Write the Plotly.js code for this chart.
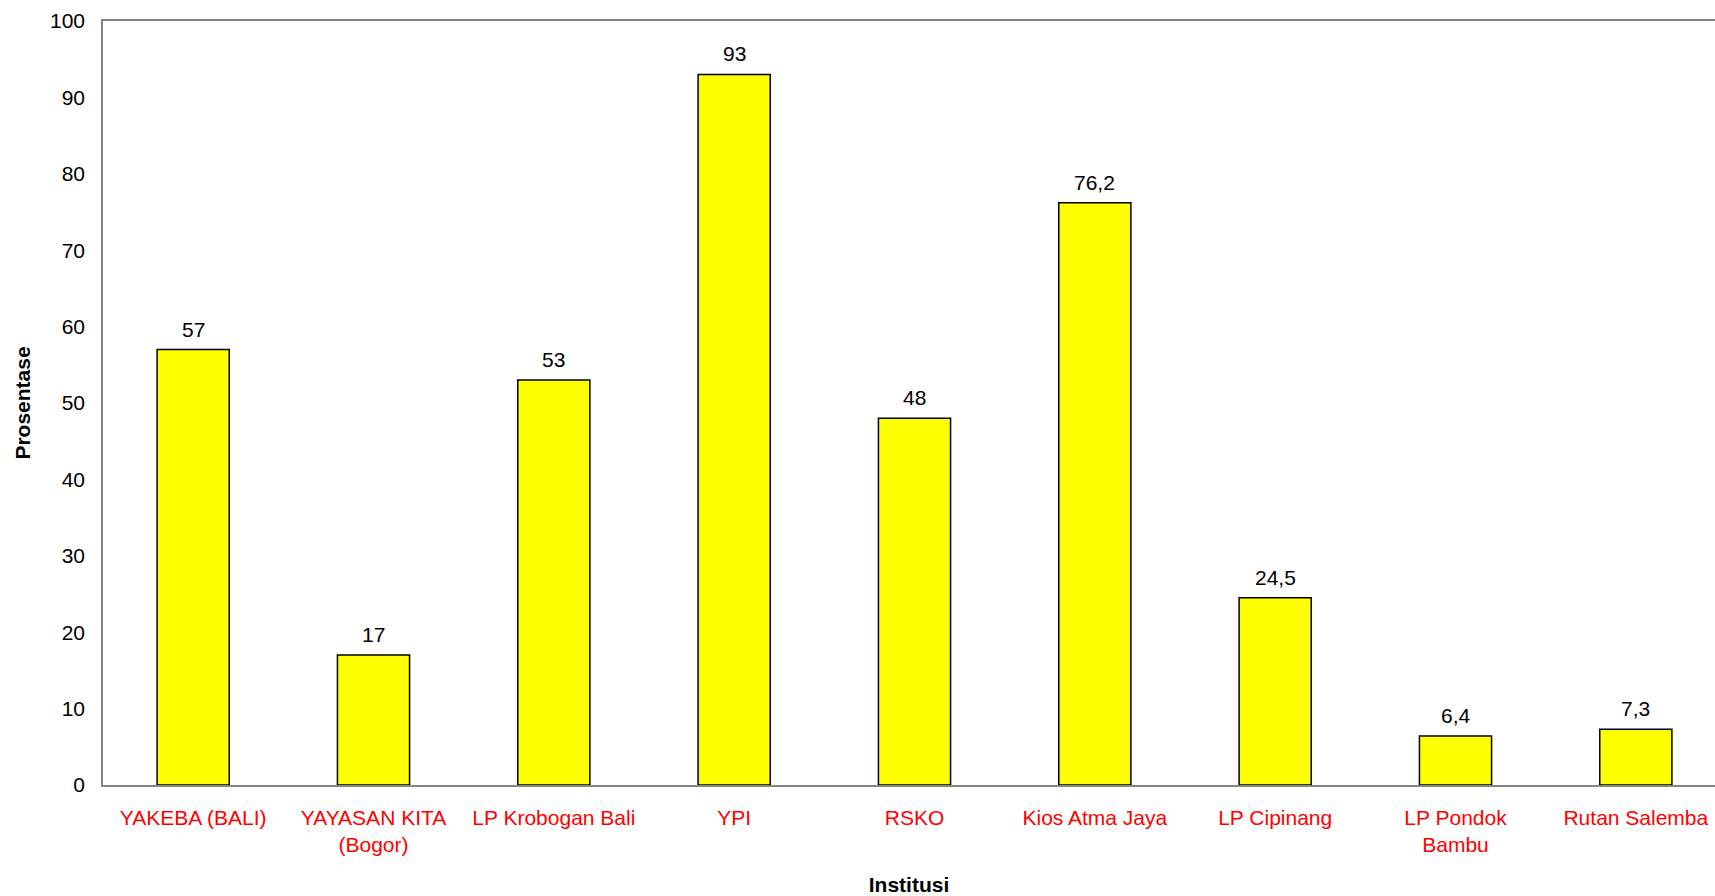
<!DOCTYPE html>
<html>
<head>
<meta charset="utf-8">
<script src="https://cdn.plot.ly/plotly-3.0.1.min.js"></script>
<style>html,body{margin:0;padding:0;background:#fff;}#chart{width:1715px;height:896px;}</style>
</head>
<body>
<div id="chart"></div>
<script>
const categories = ['YAKEBA (BALI)', 'YAYASAN KITA<br>(Bogor)', 'LP Krobogan Bali', 'YPI', 'RSKO', 'Kios Atma Jaya', 'LP Cipinang', 'LP Pondok<br>Bambu', 'Rutan Salemba'];
const values = [57, 17, 53, 93, 48, 76.2, 24.5, 6.4, 7.3];
const labels = values.map(v => String(v).replace('.', ','));
const yTicks = [0, 10, 20, 30, 40, 50, 60, 70, 80, 90, 100];

const FONT = 'Liberation Sans, Arial, sans-serif';

const trace = {
  type: 'bar',
  x: categories,
  y: values,
  marker: {color: '#FFFF00', line: {color: '#000000', width: 1.5}},
  width: 0.4,
  hoverinfo: 'x+y'
};

const annotations = categories.map((c, i) => ({
  x: c, y: values[i], xref: 'x', yref: 'y',
  text: labels[i], showarrow: false,
  yanchor: 'bottom', yshift: 7,
  font: {family: FONT, size: 21, color: '#000'}
}));

const layout = {
  width: 1715, height: 896,
  margin: {l: 103, r: 0, t: 21, b: 111, pad: 0},
  paper_bgcolor: '#fff', plot_bgcolor: '#fff',
  showlegend: false,
  bargap: 0.6,
  xaxis: {
    type: 'category',
    range: [-0.5, 8.439],
    showline: true, linecolor: '#868686', linewidth: 1.5, mirror: true,
    showgrid: false, ticks: '', ticklabelstandoff: 13,
    tickfont: {family: FONT, size: 21, color: '#FF0000'},
    title: {text: 'Institusi', font: {family: FONT, size: 21, color: '#000', weight: 'bold'}, standoff: 22},
    automargin: false
  },
  yaxis: {
    range: [0, 100],
    tickvals: yTicks,
    showline: true, linecolor: '#868686', linewidth: 1.5,
    showgrid: false, zeroline: false, ticks: '', ticklabelstandoff: 12,
    tickfont: {family: FONT, size: 21, color: '#000'},
    title: {text: 'Prosentase', font: {family: FONT, size: 21, color: '#000', weight: 'bold'}, standoff: 14},
    automargin: false
  },
  annotations: annotations
};

Plotly.newPlot('chart', [trace], layout, {displayModeBar: false, responsive: false});
</script>
</body>
</html>
